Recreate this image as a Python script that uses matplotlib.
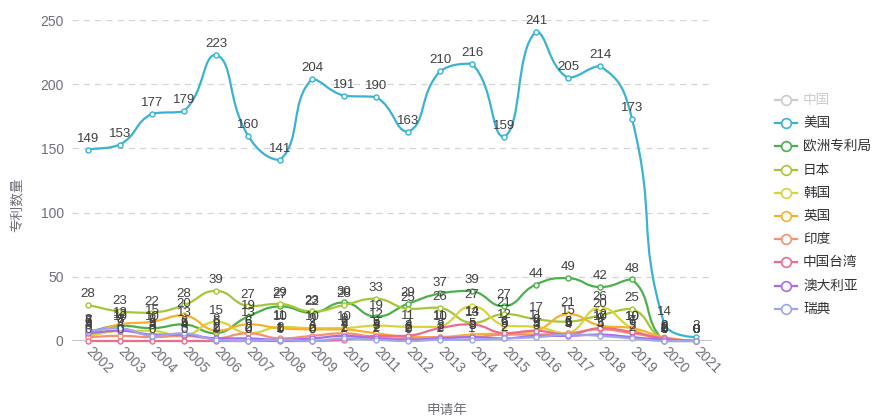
import numpy as np
import matplotlib
matplotlib.use("Agg")
import matplotlib.pyplot as plt
from matplotlib.path import Path
from matplotlib.patches import PathPatch
from matplotlib.lines import Line2D

plt.rcParams['font.family'] = ['Liberation Sans', 'Noto Sans CJK SC', 'DejaVu Sans']

# ---------------- data ----------------
years = [str(y) for y in range(2002, 2022)]
legend_names = ['中国', '美国', '欧洲专利局', '日本', '韩国', '英国', '印度', '中国台湾', '澳大利亚', '瑞典']
hidden = ['中国']

us = [149, 153, 177, 179, 223, 160, 141, 204, 191, 190, 163, 210, 216, 159, 241, 205, 214, 173, 14, 3]
epo = [7, 12, 10, 13, 6, 19, 27, 22, 30, 19, 29, 37, 39, 27, 44, 49, 42, 48, 0, 0]
jp = [28, 23, 22, 28, 39, 27, 29, 23, 28, 33, 25, 26, 14, 21, 17, 15, 20, 25, 1, 0]
kr = [4, 8, 8, 4, 15, 6, 11, 10, 10, 12, 11, 11, 27, 12, 11, 6, 26, 10, 0, 0]
gb = [5, 13, 15, 20, 8, 13, 10, 9, 9, 6, 3, 3, 5, 6, 8, 21, 12, 10, 3, 0]
india = [3, 4, 3, 4, 2, 6, 2, 4, 6, 3, 2, 3, 3, 5, 5, 6, 9, 6, 2, 0]
tw = [0, 0, 0, 0, 0, 0, 0, 0, 1, 4, 4, 10, 13, 6, 8, 5, 10, 7, 2, 0]
au = [6, 8, 5, 5, 2, 2, 1, 2, 4, 2, 1, 2, 3, 2, 4, 4, 5, 3, 1, 0]
se = [8, 10, 4, 6, 1, 0, 1, 0, 2, 1, 0, 1, 1, 2, 3, 5, 4, 2, 0, 0]

series = [
    ('美国', us, '#3ab3d3'),
    ('欧洲专利局', epo, '#4cb04a'),
    ('日本', jp, '#a6c63a'),
    ('韩国', kr, '#d6d63c'),
    ('英国', gb, '#f6b12e'),
    ('印度', india, '#f7906c'),
    ('中国台湾', tw, '#ec6c8e'),
    ('澳大利亚', au, '#a66cf0'),
    ('瑞典', se, '#9ea4ee'),
]
colors = {n: c for n, _, c in series}
colors['中国'] = '#cccccc'

W, H = 873, 416
fig = plt.figure(figsize=(W / 100, H / 100), dpi=100)
L, R, T, B = 72, 712, 20, 341
ax = fig.add_axes([L / W, 1 - B / H, (R - L) / W, (B - T) / H])
n = len(years)
x = np.arange(n)
ax.set_xlim(-0.5, n - 0.5)
ax.set_ylim(0, 250)

for s in ax.spines.values():
    s.set_visible(False)
ax.axhline(0, color='#bbbbbb', lw=1.2, zorder=1)
for v in range(50, 251, 50):
    ax.axhline(v, color='#d5d5d5', lw=0.9, ls=(0, (5, 4)), zorder=0)

ax.set_yticks(range(0, 251, 50))
ax.tick_params(axis='y', length=0, pad=6, labelsize=10, labelcolor='#6e7079')
ax.set_xticks(x)
ax.set_xticklabels(years)
ax.tick_params(axis='x', length=0, pad=6, labelsize=10, labelcolor='#6e7079')
for lab in ax.get_xticklabels():
    lab.set_rotation(-45)
    lab.set_ha('left')
    lab.set_va('center')
    lab.set_rotation_mode('anchor')


def smooth_path(xs, ys, s=0.5):
    pts = ax.transData.transform(np.column_stack([xs, ys]))
    m = len(pts)
    verts = [tuple(pts[0])]
    codes = [Path.MOVETO]
    cp0 = tuple(pts[0])
    for i in range(m):
        xx, yy = pts[i]
        px, py = pts[i - 1] if i > 0 else pts[i]
        if i < m - 1:
            nx, ny = pts[i + 1]
            vx, vy = nx - px, ny - py
            l0 = np.hypot(xx - px, yy - py)
            l1 = np.hypot(nx - xx, ny - yy)
            r = l1 / (l0 + l1) if (l0 + l1) > 0 else 0.5
            c1x = xx - vx * s * (1 - r)
            c1y = yy - vy * s * (1 - r)
            c1x = min(max(c1x, min(px, xx)), max(px, xx))
            c1y = min(max(c1y, min(py, yy)), max(py, yy))
            n0x = xx + vx * s * r
            n0y = yy + vy * s * r
            n0x = min(max(n0x, min(nx, xx)), max(nx, xx))
            n0y = min(max(n0y, min(ny, yy)), max(ny, yy))
        else:
            c1x, c1y = xx, yy
            n0x, n0y = xx, yy
        if i > 0:
            verts += [cp0, (c1x, c1y), (xx, yy)]
            codes += [Path.CURVE4] * 3
        cp0 = (n0x, n0y)
    inv = ax.transData.inverted()
    return Path(inv.transform(np.array(verts)), codes)


for k, (name, vals, col) in enumerate(series):
    p = smooth_path(x, vals)
    ax.add_patch(PathPatch(p, fill=False, edgecolor=col, lw=1.6, zorder=3 + k * 0.1,
                           capstyle='round', joinstyle='round', clip_on=False))
    ax.plot(x, vals, ls='none', marker='o', ms=3.6, mfc='white', mec=col, mew=1.0,
            zorder=3.05 + k * 0.1, clip_on=False)

for name, vals, col in series:
    for xi, v in zip(x, vals):
        ax.annotate(str(v), (xi, v), xytext=(0, 3.5), textcoords='offset points',
                    ha='center', va='bottom', fontsize=9.5, color='#404040', zorder=10)

fig.text(18 / W, 1 - 205 / H, '专利数量', rotation=90, ha='center', va='center',
         fontsize=9.8, color='#6e7079')
fig.text(447 / W, 1 - 410 / H, '申请年', ha='center', va='center',
         fontsize=9.8, color='#6e7079')

# legend
y0, dy = 100, 23.2
for i, name in enumerate(legend_names):
    yy = 1 - (y0 + i * dy) / H
    col = colors[name]
    fig.add_artist(Line2D([775 / W, 797 / W], [yy, yy], color=col, lw=1.6,
                          transform=fig.transFigure))
    fig.add_artist(Line2D([786 / W], [yy], marker='o', ms=7, mfc='white', mec=col,
                          mew=1.2, transform=fig.transFigure))
    fig.text(803 / W, yy, name, ha='left', va='center', fontsize=9.8,
             color='#cccccc' if name in hidden else '#333333')

fig.savefig('out.png', dpi=100)
